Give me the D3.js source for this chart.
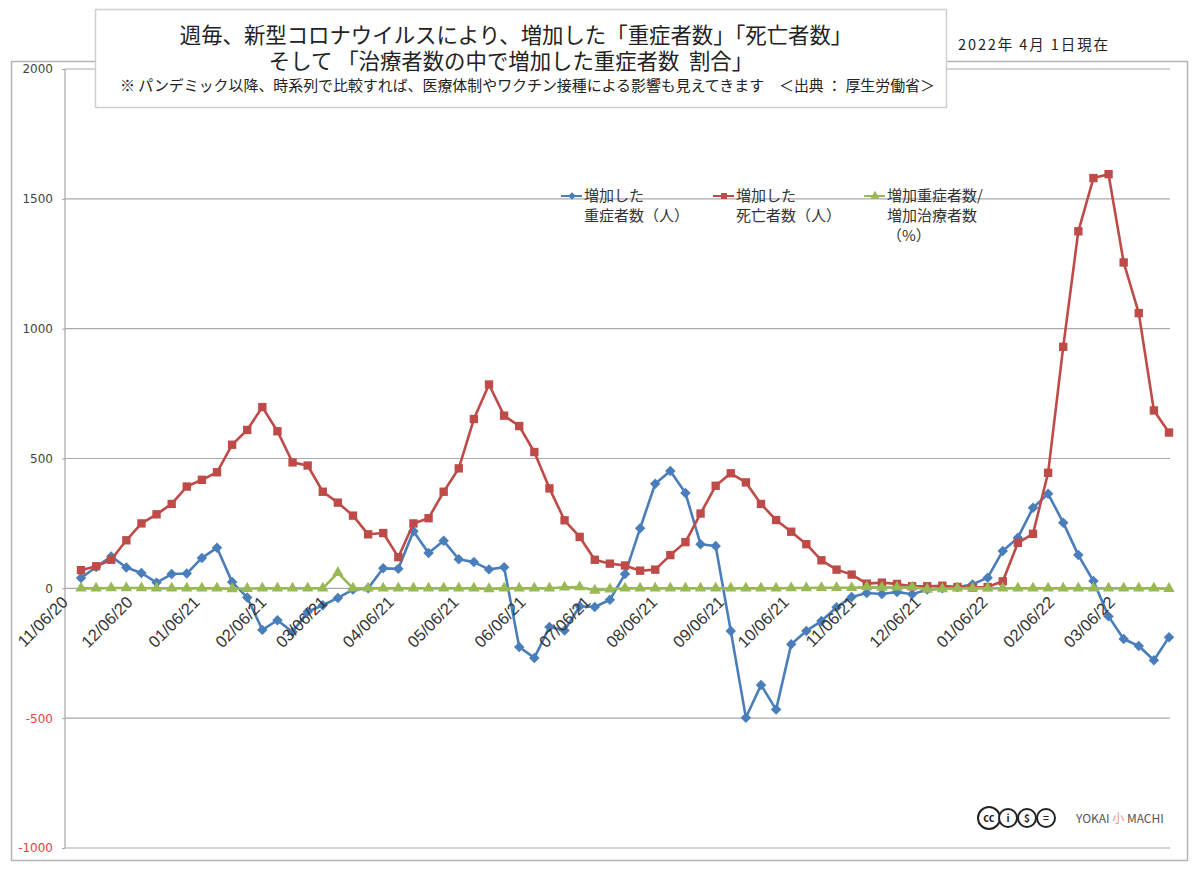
<!DOCTYPE html>
<html lang="ja"><head><meta charset="utf-8">
<script src="https://cdnjs.cloudflare.com/ajax/libs/d3/7.8.5/d3.min.js"></script>
<style>html,body{margin:0;padding:0;background:#fff}svg{display:block}text{font-family:"Noto Sans CJK JP",sans-serif}
.num text{font-family:"Liberation Sans",Arial,sans-serif}
.yax text{font-family:"DejaVu Sans",sans-serif}</style></head><body>
<svg id="c" width="1200" height="870"></svg>
<script>
const weeks=["2020-11-06","2020-11-13","2020-11-20","2020-11-27","2020-12-04","2020-12-11","2020-12-18","2020-12-25","2021-01-01","2021-01-08","2021-01-15","2021-01-22","2021-01-29","2021-02-05","2021-02-12","2021-02-19","2021-02-26","2021-03-05","2021-03-12","2021-03-19","2021-03-26","2021-04-02","2021-04-09","2021-04-16","2021-04-23","2021-04-30","2021-05-07","2021-05-14","2021-05-21","2021-05-28","2021-06-04","2021-06-11","2021-06-18","2021-06-25","2021-07-02","2021-07-09","2021-07-16","2021-07-23","2021-07-30","2021-08-06","2021-08-13","2021-08-20","2021-08-27","2021-09-03","2021-09-10","2021-09-17","2021-09-24","2021-10-01","2021-10-08","2021-10-15","2021-10-22","2021-10-29","2021-11-05","2021-11-12","2021-11-19","2021-11-26","2021-12-03","2021-12-10","2021-12-17","2021-12-24","2021-12-31","2022-01-07","2022-01-14","2022-01-21","2022-01-28","2022-02-04","2022-02-11","2022-02-18","2022-02-25","2022-03-04","2022-03-11","2022-03-18","2022-03-25"];
const severe=[40,82,123,80,59,22,55,57,117,156,24,-35,-160,-123,-168,-90,-65,-37,-5,0,77,75,220,136,183,112,101,73,81,-226,-268,-149,-162,-69,-72,-44,55,231,403,452,367,170,163,-164,-498,-372,-467,-215,-164,-126,-73,-33,-18,-22,-14,-23,-5,0,5,15,41,144,195,310,364,253,128,28,-108,-195,-222,-277,-188];
const deaths=[70,85,110,185,250,285,325,392,418,447,553,610,698,605,485,473,372,330,280,208,213,120,250,270,372,462,652,785,665,625,525,385,262,198,110,95,88,68,72,128,178,288,395,443,408,325,263,218,170,108,72,53,18,22,17,8,8,10,5,3,5,27,175,210,445,930,1375,1580,1595,1255,1060,685,600];
const ratio=[0,0,1,1,1,0,0,0,0,0,-2,-1,0,0,0,0,0,60,0,0,0,0,0,0,0,0,0,-2,0,0,0,0,4,5,-8,-3,0,0,0,0,0,0,0,0,0,0,0,1,1,2,2,2,5,3,4,5,-4,-2,0,0,0,0,0,0,0,0,0,0,0,0,0,0,-1];
const monthTicks=["2020-11-06","2020-12-06","2021-01-06","2021-02-06","2021-03-06","2021-04-06","2021-05-06","2021-06-06","2021-07-06","2021-08-06","2021-09-06","2021-10-06","2021-11-06","2021-12-06","2022-01-06","2022-02-06","2022-03-06"];
const yTicks=[2000,1500,1000,500,0,-500,-1000];
const seriesNames=[["増加した","重症者数（人）"],["増加した","死亡者数（人）"],["増加重症者数/","増加治療者数","（%）"]];
const seriesColors=["#4a7ebb","#be4b48","#98b954"];
const titleLines=["週毎、新型コロナウイルスにより、増加した「重症者数」「死亡者数」","そして 「治療者数の中で増加した重症者数  割合」"];
const noteLine="※ パンデミック以降、時系列で比較すれば、医療体制やワクチン接種による影響も見えてきます　＜出典 ： 厚生労働省＞";
const asOf="2022年 4月 1日現在";

const parse=d3.utcParse("%Y-%m-%d"), fmt=d3.utcFormat("%m/%d/%y");
const svg=d3.select("#c");
const x=d3.scaleUtc().domain([parse(weeks[0]),parse(weeks[weeks.length-1])]).range([81,1169]);
const y=d3.scaleLinear().domain([-1000,2000]).range([848,69]);

svg.append("rect").attr("x",11.5).attr("y",61.5).attr("width",1176).attr("height",799).attr("fill","#fff").attr("stroke","#b5b5b5").attr("stroke-width",1.5);

const gy=svg.append("g").attr("class","yax").attr("transform","translate(65,0)").call(d3.axisLeft(y).tickValues(yTicks).tickSize(3).tickPadding(9).tickFormat(d=>String(d)));
gy.select(".domain").attr("stroke","#a6a6a6").attr("stroke-width",1.2).attr("d","M0,69V848");
gy.selectAll("line").attr("stroke","#a6a6a6");
gy.selectAll("text").attr("font-size",12).attr("fill",d=>d<0?"#f03c3c":"#444");
svg.append("g").selectAll("line").data(yTicks).join("line").attr("x1",65).attr("x2",1170).attr("y1",d=>y(d)).attr("y2",d=>y(d)).attr("stroke","#aaa").attr("stroke-width",1.2);

const series=[severe,deaths,ratio];
const symbols=[d3.symbolDiamond2,d3.symbolSquare,d3.symbolTriangle];
const sizes=[70,70,56];
const line=d3.line().x((d,i)=>x(parse(weeks[i]))).y(d=>y(d));
[0,1,2].forEach(k=>{
  const g=svg.append("g");
  g.append("path").datum(series[k]).attr("d",line).attr("fill","none").attr("stroke",seriesColors[k]).attr("stroke-width",2.6).attr("stroke-linejoin","round");
  g.selectAll("path.m").data(series[k]).join("path").attr("class","m")
   .attr("d",d3.symbol().type(symbols[k]).size(sizes[k]))
   .attr("transform",(d,i)=>`translate(${x(parse(weeks[i]))},${y(d)})`).attr("fill",seriesColors[k]);
});

const gx=svg.append("g").attr("class","num");
gx.selectAll("text").data(monthTicks).join("text")
  .attr("transform",d=>`translate(${x(parse(d))-12},${y(0)+15}) rotate(-45)`)
  .attr("text-anchor","end").attr("font-size",16.5).attr("fill","#333").text(d=>fmt(parse(d)));

// legend
const legendX=[561,713,864];
seriesNames.forEach((names,k)=>{
  const g=svg.append("g").attr("transform",`translate(${legendX[k]},196)`);
  g.append("line").attr("x1",0).attr("x2",21).attr("stroke",seriesColors[k]).attr("stroke-width",2);
  g.append("path").attr("d",d3.symbol().type(symbols[k]).size(36)).attr("transform","translate(11,0)").attr("fill",seriesColors[k]);
  names.forEach((t,i)=>g.append("text").attr("x",23).attr("y",5+i*20).attr("font-size",15).attr("fill","#333").text(t));
});

// title box
svg.append("rect").attr("x",95.5).attr("y",9.5).attr("width",851).attr("height",98).attr("fill","#fff").attr("stroke","#cfcfcf").attr("stroke-width",1.5);
const title=svg.append("text").attr("text-anchor","middle").attr("font-size",21.4).attr("fill","#222").style("white-space","pre");
title.append("tspan").attr("x",516).attr("y",43).text(titleLines[0]);
title.append("tspan").attr("x",511).attr("y",69).text(titleLines[1]);
svg.append("text").attr("x",120).attr("y",91).attr("font-size",14.93).attr("fill","#222").text(noteLine);
svg.append("text").attr("x",958).attr("y",50).attr("font-size",14.5).attr("letter-spacing",1.9).attr("fill","#222").text(asOf);

// licence marks
const badge=svg.append("g");
[["cc",989,11],["i",1008,8],["$",1027,8],["=",1046,8]].forEach(([t,cx,r])=>{
  badge.append("circle").attr("cx",cx).attr("cy",818).attr("r",r+ (t==="cc"?0:1)).attr("fill","#fff").attr("stroke","#222").attr("stroke-width",2);
  badge.append("text").attr("x",cx).attr("y",822).attr("text-anchor","middle").attr("font-size",t==="cc"?11:10).attr("font-weight",700).attr("fill","#222").text(t);
});
const brand=svg.append("text").attr("x",1076).attr("y",823).attr("font-size",12).attr("fill","#555");
brand.append("tspan").text("YOKAI ");
brand.append("tspan").attr("fill","#e88fa0").text("小");
brand.append("tspan").text(" MACHI");
</script></body></html>
